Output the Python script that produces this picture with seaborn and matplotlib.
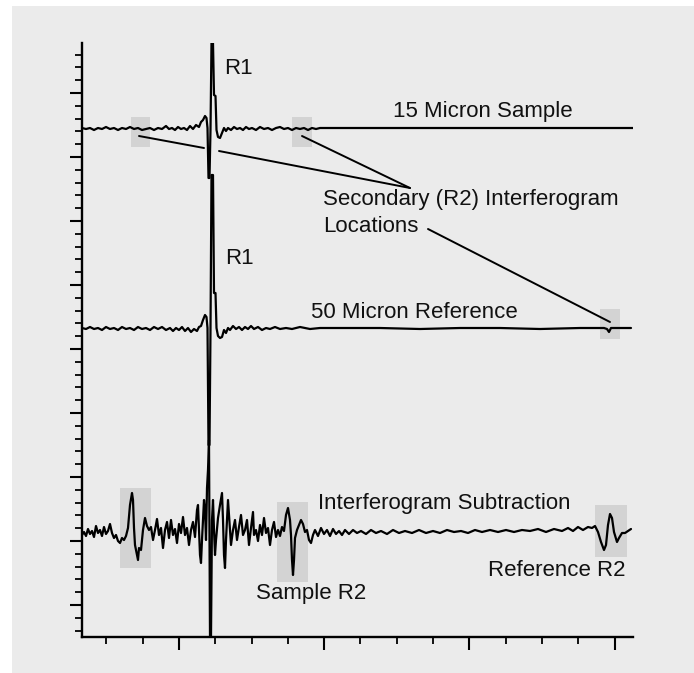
import numpy as np
import pandas as pd
import matplotlib
matplotlib.use("Agg")
import matplotlib.pyplot as plt
from matplotlib.patches import Rectangle
import seaborn as sns

# ---- data (x = optical retardation position, y = detector signal; plotting units) ----
sample_15 = [(82,128),(86,129),(90,128),(94,130),(98,128),(102,129),(106,127),(110,129),(114,128),
             (118,130),(122,128),(126,129),(130,127),(134,129),(138,128),(142,130),(146,129),(150,128),
             (154,130),(158,128),(162,129),(166,126),(169,129),(172,128),(175,130),(178,127),(181,129),
             (184,128),(187,130),(190,126),(193,129),(196,125),(199,127),(201,122),(203,120),(205,116),
             (206.5,118),(207.5,128),(208.5,178),(209.5,178),(210.5,130),(211.5,43),(213,43),(214,95),
             (215.5,96),(216.5,130),(218,137),(220,138),(222,133),(224,128),(226,131),(228,128),(231,130),
             (234,127),(237,129),(240,128),(243,130),(246,127),(249,129),(252,128),(256,130),(260,127),
             (264,129),(268,128),(272,130),(276,128),(280,127),(284,129),(288,128),(292,130),(296,128),
             (300,129),(304,128),(308,130),(312,128),(316,129),(320,128),(325,128),(332,128),(633,128)]

reference_50 = [(82,328),(86,329),(90,327),(94,329),(98,328),(102,330),(106,327),(110,329),(114,328),
                (118,330),(122,327),(126,329),(130,328),(134,330),(138,327),(142,329),(146,328),(150,330),
                (154,327),(158,329),(162,327),(166,330),(170,328),(173,331),(176,328),(179,330),(182,327),
                (185,331),(188,328),(191,332),(194,329),(197,331),(199,327),(201,326),(203,320),(205,315),
                (206.5,317),(207.5,328),(208.5,445),(209.5,445),(210.5,330),(211.5,175),(213,175),(214,293),
                (215.5,293),(216.5,328),(218,336),(220,338),(222,337),(224,330),(226,333),(228,328),(230,330),
                (233,326),(236,329),(239,327),(242,330),(245,327),(248,329),(251,326),(254,329),(258,327),
                (262,330),(266,328),(270,329),(275,327),(280,329),(286,328),(292,329),(300,327),(310,329),
                (320,328),(340,328),(380,328),(420,329),(460,328),(500,328),(540,329),(580,328),(604,328),
                (607,329),(609,332),(611,328),(620,328),(631,328)]

subtraction = [(82,535),(84,532),(86,536),(88,529),(90,534),(92,531),(94,537),(96,526),(98,533),(100,530),
               (102,536),(104,527),(106,534),(108,531),(110,524),(112,533),(114,538),(116,535),(118,541),
               (120,543),(122,538),(124,540),(126,536),(128,528),(130,505),(132,493),(133,500),(134,528),
               (135,545),(137,555),(138,560),(139,548),(141,550),(143,530),(145,518),(147,526),(149,530),
               (151,527),(153,540),(155,530),(157,519),(159,535),(161,528),(163,548),(165,530),(167,522),
               (169,538),(171,520),(173,535),(175,529),(177,543),(179,524),(181,533),(183,517),(185,535),
               (187,528),(189,545),(191,530),(193,522),(195,537),(197,510),(198,505),(199,530),(200,555),
               (201,563),(202,540),(203,520),(204,500),(205,510),(206,540),(207,488),(208,470),(209,440),
               (210,637),(211,637),(212,520),(213,500),(214,530),(215,555),(216,540),(218,518),(220,505),
               (222,493),(223,520),(224,555),(225,568),(226,540),(228,500),(229,515),(231,545),(233,530),
               (235,520),(237,540),(239,527),(241,515),(243,535),(245,530),(247,520),(249,545),(251,528),
               (253,512),(254,535),(256,530),(258,541),(260,525),(262,535),(264,518),(266,533),(268,528),
               (270,545),(272,530),(274,522),(276,537),(278,530),(280,536),(282,527),(284,531),(286,515),
               (288,508),(290,520),(291,535),(292,560),(293,575),(294,560),(295,538),(297,530),(299,525),
               (301,520),(303,524),(305,532),(307,530),(309,540),(311,543),(313,535),(315,530),(318,536),
               (321,528),(324,534),(327,530),(330,536),(333,529),(336,534),(339,531),(342,535),(345,530),
               (349,534),(353,530),(357,533),(361,531),(366,534),(371,530),(376,533),(381,531),(387,534),
               (393,530),(399,533),(405,531),(412,533),(419,530),(426,533),(433,531),(440,533),(447,530),
               (454,532),(461,531),(468,533),(475,530),(482,532),(490,530),(498,532),(506,530),(514,532),
               (522,530),(530,531),(538,529),(546,532),(554,529),(562,531),(568,528),(573,531),(578,527),
               (583,530),(588,527),(592,528),(595,526),(598,532),(601,542),(604,550),(606,545),(608,525),
               (610,514),(612,518),(614,532),(617,542),(619,538),(622,533),(625,533),(628,531),(631,529)]

# highlighted R2 regions (x0, y0, x1, y1)
r2_boxes = [(131,117,150,147),(292,117,312,147),(600,309,620,339),
            (120,488,151,568),(277,502,308,582),(595,505,627,557)]

# annotation leader lines (segments)
leaders = [((139,136),(204,148)),((219,151),(410,188)),((302,136),(410,188)),((428,229),(610,322))]

labels = [("R1", 224, 69, "left"), ("R1", 225, 259, "left"),
          ("15 Micron Sample", 393, 112, "left"),
          ("Secondary (R2) Interferogram", 323, 200, "left"),
          ("Locations", 323, 226, "left"),
          ("50 Micron Reference", 311, 312, "left"),
          ("Interferogram Subtraction", 571, 503, "right"),
          ("Reference R2", 625, 570, "right"),
          ("Sample R2", 256, 593, "left")]

ytick_major = [93, 157, 221, 285, 349, 413, 477, 541, 605]
xtick_major = [179, 324.2, 469.4, 614.6]

# ---- build frame ----
frames = []
for name, pts in [("15 Micron Sample", sample_15), ("50 Micron Reference", reference_50),
                  ("Interferogram Subtraction", subtraction)]:
    d = pd.DataFrame(pts, columns=["x", "y"])
    d["trace"] = name
    frames.append(d)
df = pd.concat(frames, ignore_index=True)

sns.set_theme(style="white")
plt.rcParams["font.family"] = ["Liberation Sans", "DejaVu Sans"]

W, H = 694, 673
fig = plt.figure(figsize=(W / 100, H / 100), dpi=100)
fig.patch.set_facecolor("white")
bg = Rectangle((12 / W, 0), 1 - 12 / W, (H - 6) / H, transform=fig.transFigure,
               facecolor="#ebebeb", edgecolor="none", zorder=-10)
fig.patches.append(bg)

ax = fig.add_axes([82 / W, (H - 637) / H, (633 - 82) / W, (637 - 43) / H])
ax.set_zorder(1)
ax.set_facecolor("#ebebeb")
ax.set_xlim(82, 633)
ax.set_ylim(637, 43)

for (x0, y0, x1, y1) in r2_boxes:
    ax.add_patch(Rectangle((x0, y0), x1 - x0, y1 - y0, facecolor="#d3d3d3",
                           edgecolor="none", zorder=1))

for (p0, p1) in leaders:
    ax.plot([p0[0], p1[0]], [p0[1], p1[1]], color="black", lw=1.4, zorder=2,
            solid_capstyle="round")

sns.lineplot(data=df, x="x", y="y", units="trace", estimator=None, sort=False,
             color="black", linewidth=1.6, ax=ax, zorder=3)

for (t, x, y, ha) in labels:
    ax.text(x, y, t, ha=ha, va="center", fontsize=16, color="#111111", zorder=4)

for s in ["top", "right"]:
    ax.spines[s].set_visible(False)
for s in ["left", "bottom"]:
    ax.spines[s].set_color("black")
    ax.spines[s].set_linewidth(1.7)

ax.set_yticks(ytick_major)
ax.set_yticks(np.arange(54.6, 637, 12.8), minor=True)
ax.set_xticks(xtick_major)
ax.set_xticks(np.arange(106.4, 633, 36.3), minor=True)
ax.tick_params(which="major", direction="out", length=9, width=1.5, color="black",
               left=True, bottom=True, labelleft=False, labelbottom=False)
ax.tick_params(which="minor", direction="out", length=5, width=1.3, color="black",
               left=True, bottom=True)
ax.set_xlabel("")
ax.set_ylabel("")
ax.grid(False)

fig.savefig("out.png", dpi=100, facecolor=fig.get_facecolor())
